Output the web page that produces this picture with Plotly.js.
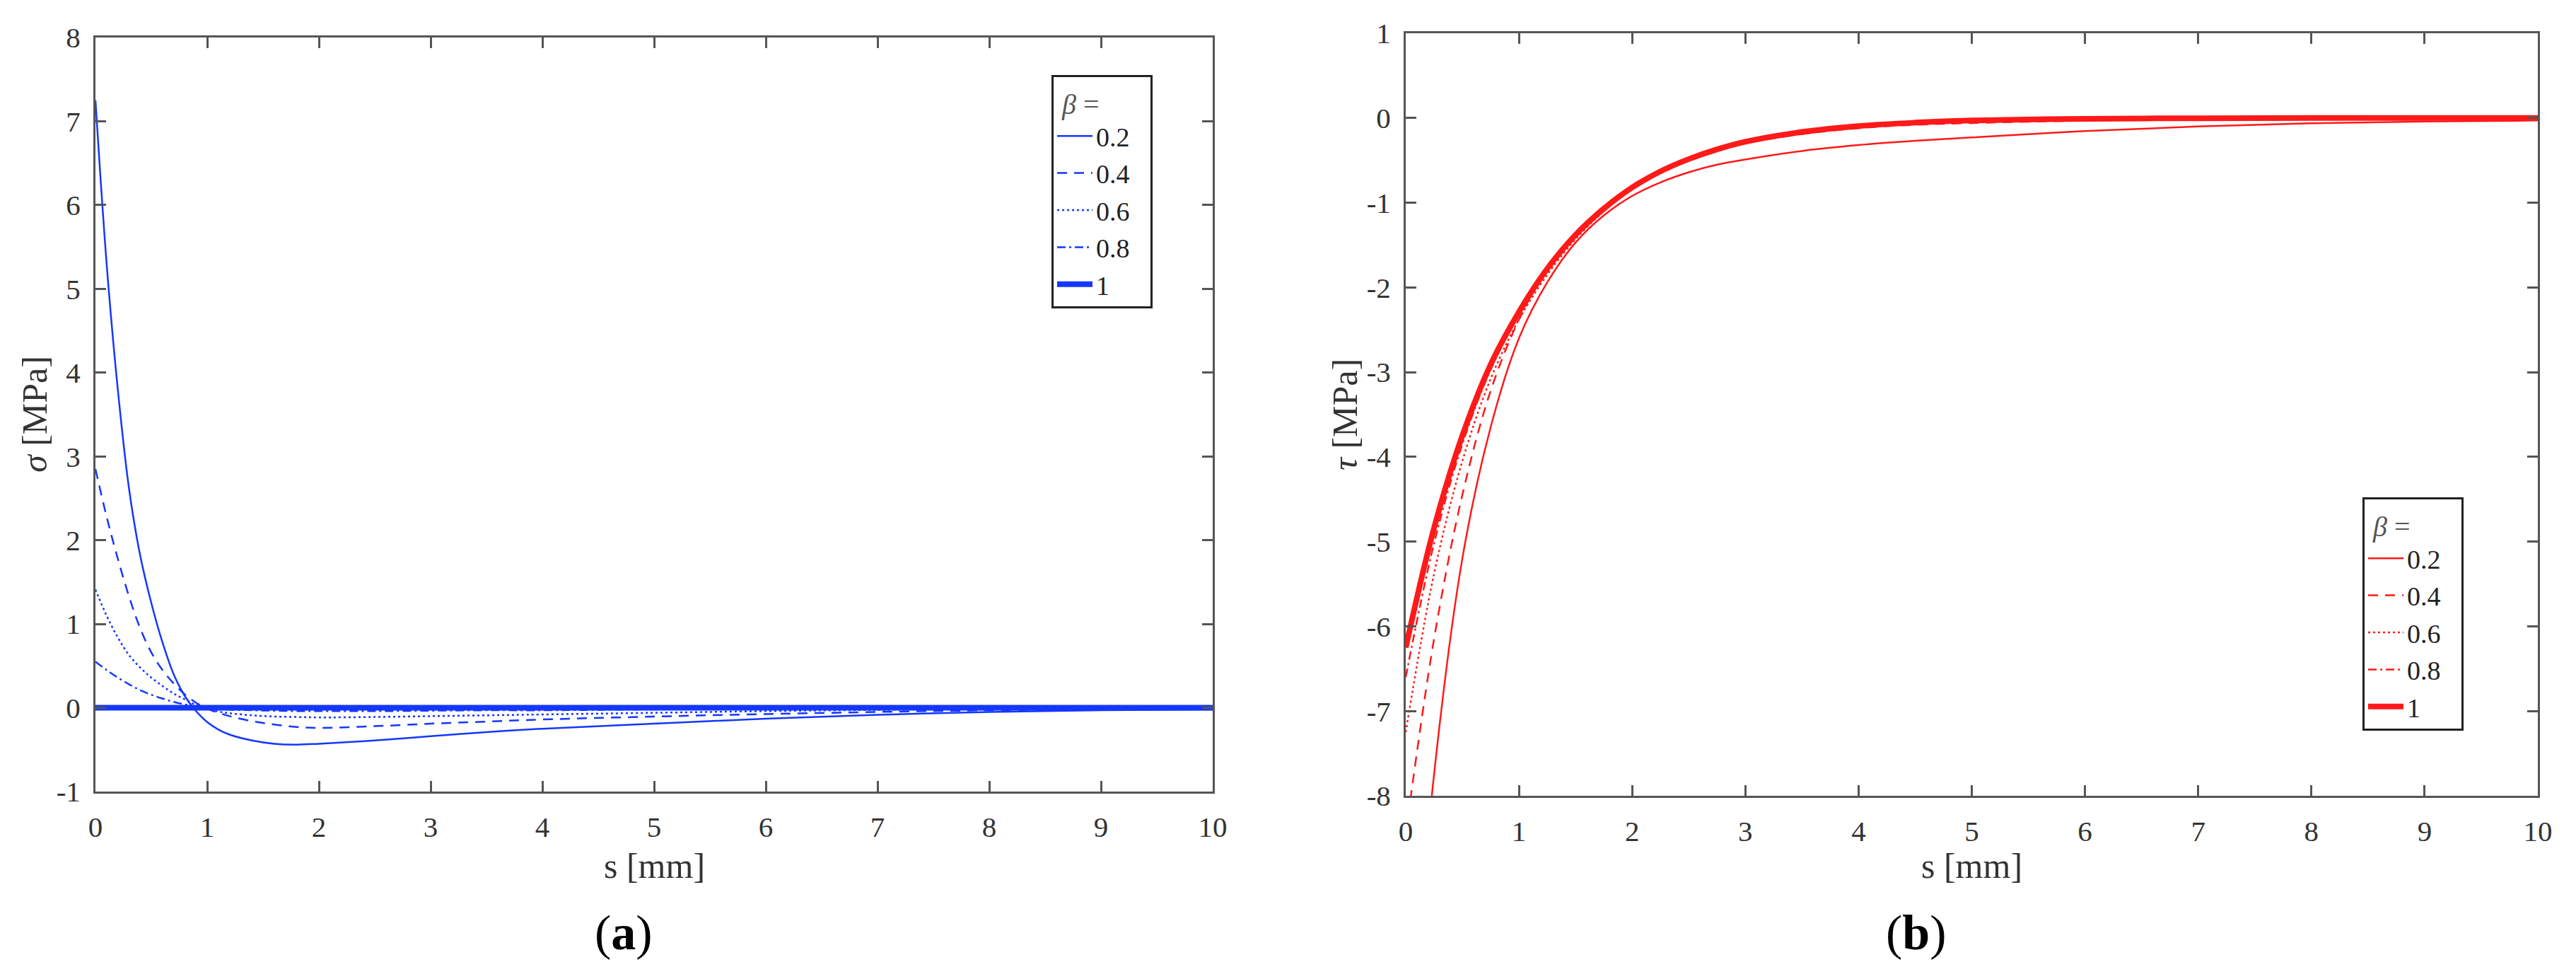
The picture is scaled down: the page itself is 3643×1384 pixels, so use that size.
<!DOCTYPE html>
<html>
<head>
<meta charset="utf-8">
<script src="https://cdn.plot.ly/plotly-3.0.1.min.js"></script>
<style>
  html, body { margin: 0; padding: 0; background: #fff; }
  #chart { width: 3643px; height: 1384px; }
</style>
</head>
<body>
<div id="chart"></div>
<script>
// beta values shown in the legends
var betaLabels = ["0.2", "0.4", "0.6", "0.8", "1"];

// (a) normal stress sigma [MPa] along s [mm]
var sSigma = [0, 0.1, 0.2, 0.3, 0.4, 0.5, 0.6, 0.7, 0.8, 0.9, 1.0, 1.1, 1.2, 1.4, 1.6, 1.8, 2.0, 2.5, 3, 3.5, 4, 5, 6, 7, 8, 9, 10];
var sigma02 = [7.25, 5.3, 3.8, 2.62, 1.82, 1.25, 0.78, 0.40, 0.14, -0.04, -0.17, -0.26, -0.32, -0.39, -0.43, -0.44, -0.43, -0.39, -0.34, -0.29, -0.25, -0.19, -0.13, -0.085, -0.05, -0.03, -0.02];
var sigma04 = [2.85, 2.28, 1.78, 1.33, 0.95, 0.66, 0.45, 0.29, 0.16, 0.06, -0.01, -0.06, -0.10, -0.16, -0.20, -0.23, -0.24, -0.22, -0.19, -0.165, -0.14, -0.105, -0.075, -0.05, -0.03, -0.02, -0.01];
var sigma06 = [1.41, 1.1, 0.84, 0.63, 0.48, 0.36, 0.26, 0.17, 0.10, 0.035, -0.015, -0.045, -0.065, -0.09, -0.105, -0.11, -0.115, -0.11, -0.10, -0.09, -0.08, -0.06, -0.04, -0.025, -0.015, -0.01, -0.005];
var sigma08 = [0.55, 0.45, 0.36, 0.28, 0.21, 0.155, 0.11, 0.07, 0.04, 0.015, -0.005, -0.015, -0.022, -0.03, -0.035, -0.04, -0.04, -0.04, -0.035, -0.03, -0.03, -0.02, -0.015, -0.01, -0.005, 0, 0];
var sigma10 = [0, 0, 0, 0, 0, 0, 0, 0, 0, 0, 0, 0, 0, 0, 0, 0, 0, 0, 0, 0, 0, 0, 0, 0, 0, 0, 0];

// (b) shear stress tau [MPa] along s [mm]
var sTau = [0, 0.25, 0.5, 0.75, 1.0, 1.25, 1.5, 1.75, 2.0, 2.25, 2.5, 2.75, 3.0, 3.5, 4.0, 4.5, 5, 6, 7, 8, 9, 10];
var tau02 = [-11.6, -7.75, -5.2, -3.65, -2.6, -1.94, -1.47, -1.15, -0.92, -0.76, -0.64, -0.55, -0.49, -0.39, -0.32, -0.27, -0.23, -0.155, -0.10, -0.063, -0.042, -0.03];
var tau04 = [-8.45, -6.15, -4.45, -3.22, -2.38, -1.78, -1.36, -1.04, -0.80, -0.62, -0.48, -0.38, -0.30, -0.19, -0.12, -0.08, -0.06, -0.03, -0.015, -0.01, -0.005, 0];
var tau06 = [-7.25, -5.38, -4.05, -3.08, -2.38, -1.85, -1.43, -1.10, -0.83, -0.64, -0.49, -0.375, -0.285, -0.17, -0.10, -0.06, -0.035, -0.013, -0.006, -0.002, 0, 0];
var tau08 = [-6.6, -5.02, -3.85, -2.97, -2.33, -1.81, -1.40, -1.08, -0.825, -0.63, -0.485, -0.37, -0.28, -0.165, -0.095, -0.055, -0.03, -0.01, -0.004, 0, 0, 0];
var tau10 = [-6.25, -4.84, -3.75, -2.91, -2.29, -1.78, -1.38, -1.07, -0.82, -0.63, -0.485, -0.37, -0.28, -0.165, -0.095, -0.055, -0.03, -0.01, -0.003, 0, 0, 0];

// tick labels (plain hyphen minus like the original)
var sTicks = [0, 1, 2, 3, 4, 5, 6, 7, 8, 9, 10];
var sigmaTicks = [-1, 0, 1, 2, 3, 4, 5, 6, 7, 8];
var tauTicks = [-8, -7, -6, -5, -4, -3, -2, -1, 0, 1];

var serif = "Liberation Serif, Times New Roman, serif";
var blue = "rgb(20,55,255)";
var red = "rgb(255,25,25)";

// one style per beta: dash pattern and width
var dashes = ["solid", "14px,10px", "3px,4px", "12px,5px,3px,5px", "solid"];
var widths = [2.5, 2.5, 2.5, 2.5, 8];

function makeTraces(xs, series, color, xa, ya, legendName) {
  var out = [];
  for (var i = 0; i < series.length; i++) {
    out.push({
      x: xs,
      y: series[i],
      xaxis: xa,
      yaxis: ya,
      type: "scatter",
      mode: "lines",
      name: betaLabels[i],
      legend: legendName,
      line: { color: color, width: widths[i], dash: dashes[i], shape: "spline", smoothing: 1 }
    });
  }
  return out;
}

var data = makeTraces(sSigma, [sigma02, sigma04, sigma06, sigma08, sigma10], blue, "x", "y", "legend")
  .concat(makeTraces(sTau, [tau02, tau04, tau06, tau08, tau10], red, "x2", "y2", "legend2"));

// common axis look: MATLAB style box with inward ticks
function axisStyle(range, ticks, domain, anchor, standoff) {
  return {
    domain: domain,
    anchor: anchor,
    range: range,
    tickmode: "array",
    tickvals: ticks,
    ticktext: ticks.map(String),
    ticks: "inside",
    ticklen: 15,
    tickwidth: 3,
    tickcolor: "#555",
    showline: true,
    linecolor: "#555",
    linewidth: 3,
    mirror: "ticks",
    showgrid: false,
    zeroline: false,
    ticklabelstandoff: standoff,
    tickfont: { family: serif, size: 41, color: "#333" }
  };
}

var W = 3643, H = 1384;
function px(v) { return v / W; }
function py(v) { return 1 - v / H; }

var legendStyle = {
  bgcolor: "#fff",
  bordercolor: "#222",
  borderwidth: 3,
  font: { family: serif, size: 38, color: "#222" },
  title: { text: "&nbsp;<i>β</i> =&nbsp;&nbsp;&nbsp;&nbsp;&nbsp;&nbsp;&nbsp;", font: { family: serif, size: 40, color: "#555" } },
  xanchor: "left",
  yanchor: "top",
  xref: "paper",
  yref: "paper",
  itemwidth: 50,
  tracegroupgap: 0
};

function note(text, x, y, size, angle, color) {
  return {
    text: text, x: px(x), y: py(y), xref: "paper", yref: "paper",
    xanchor: "center", yanchor: "middle", showarrow: false, textangle: angle,
    font: { family: serif, size: size, color: color }
  };
}

var layout = {
  width: W,
  height: H,
  margin: { l: 0, r: 0, t: 0, b: 0 },
  paper_bgcolor: "#fff",
  plot_bgcolor: "#fff",
  showlegend: true,
  xaxis: axisStyle([0, 10], sTicks, [px(135), px(1715)], "y", 12),
  yaxis: axisStyle([-1, 8], sigmaTicks, [py(1119), py(53)], "x", 10),
  xaxis2: axisStyle([0, 10], sTicks, [px(1988), px(3589)], "y2", 12),
  yaxis2: axisStyle([-8, 1], tauTicks, [py(1125), py(47)], "x2", 10),
  legend: Object.assign({}, legendStyle, { x: px(1487), y: py(106) }),
  legend2: Object.assign({}, legendStyle, { x: px(3341), y: py(703) }),
  annotations: [
    note("s [mm]", 925, 1224, 50, 0, "#333"),
    note("s [mm]", 2788, 1224, 50, 0, "#333"),
    note("<i>σ</i> [MPa]", 49, 586, 50, -90, "#333"),
    note("<i>τ</i> [MPa]", 1902, 586, 50, -90, "#333"),
    note("(<b>a</b>)", 882, 1318, 70, 0, "#000"),
    note("(<b>b</b>)", 2710, 1318, 70, 0, "#000")
  ]
};

Plotly.newPlot("chart", data, layout, { staticPlot: true });
</script>
</body>
</html>
